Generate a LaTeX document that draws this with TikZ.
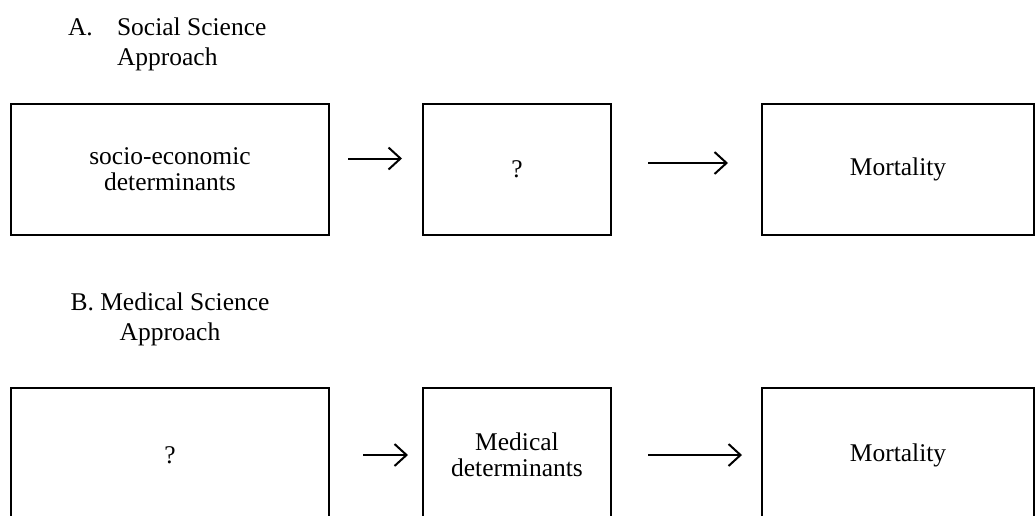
\documentclass[tikz,border=0pt]{standalone}
\usepackage{fontspec}
\setmainfont{Liberation Serif}
\usetikzlibrary{arrows.meta}
\begin{document}
\begin{tikzpicture}[x=1pt,y=-1pt,
  box/.style={draw=black,line width=2pt,inner sep=0pt,outer sep=0pt,align=center,
    font=\fontsize{25.5}{26}\selectfont},
  ttl/.style={inner sep=0pt,outer sep=0pt,font=\fontsize{25.5}{30}\selectfont},
  arr/.style={draw=black,line width=2pt,-{Straight Barb[length=12pt,width=22pt,line width=2pt]}}]
\useasboundingbox[fill=white] (0,0) rectangle (1035,515);
% section A
\node[ttl,anchor=base west] (tA1) at (68,35) {A.};
\node[ttl,anchor=base west,align=left] (tA2) at (117,65) {Social Science\\Approach};
\node[box,minimum width=318pt,minimum height=131pt] (a1) at (170,169.5) {socio-economic\\determinants};
\node[box,minimum width=188pt,minimum height=131pt] (a2) at (517,169.5) {?};
\node[box,minimum width=272pt,minimum height=131pt] (a3) at (898,169.5) {Mortality};
\draw[arr,shorten <=19pt,shorten >=21pt] ([yshift=11pt]a1.east) -- ([yshift=11pt]a2.west);
\draw[arr,shorten <=37pt,shorten >=34pt] ([yshift=6.5pt]a2.east) -- ([yshift=6.5pt]a3.west);
% section B
\node[ttl,anchor=base,align=center] (tB) at (170,340) {B. Medical Science\\Approach};
\node[box,minimum width=318pt,minimum height=134pt] (b1) at (170,455) {?};
\node[box,minimum width=188pt,minimum height=134pt] (b2) at (517,455) {Medical\\determinants};
\node[box,minimum width=272pt,minimum height=134pt] (b3) at (898,455) {Mortality};
\draw[arr,shorten <=34pt,shorten >=15pt] (b1.east) -- (b2.west);
\draw[arr,shorten <=37pt,shorten >=20pt] (b2.east) -- (b3.west);
\end{tikzpicture}
\end{document}
